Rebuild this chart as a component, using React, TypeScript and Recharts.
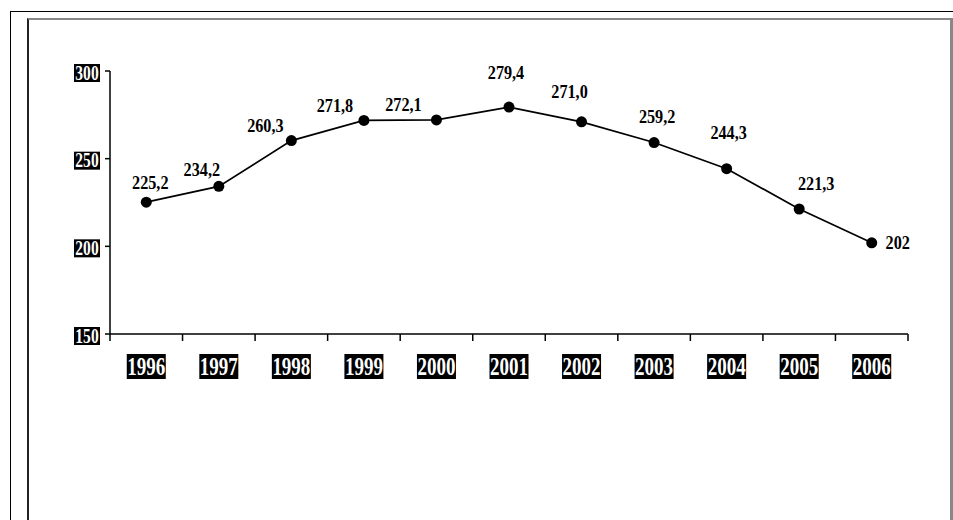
import React from 'react';
import { LineChart, Line, XAxis, YAxis } from 'recharts';

const years = ['1996', '1997', '1998', '1999', '2000', '2001', '2002', '2003', '2004', '2005', '2006'];
const values = [225.2, 234.2, 260.3, 271.8, 272.1, 279.4, 271.0, 259.2, 244.3, 221.3, 202];
const valueLabels = ['225,2', '234,2', '260,3', '271,8', '272,1', '279,4', '271,0', '259,2', '244,3', '221,3', '202'];
const yTicks = [150, 200, 250, 300];

const data = years.map((year, i) => ({ year, value: values[i], label: valueLabels[i] }));

// label offsets relative to each point (text centre), as in the original
const labelOffsets: [number, number][] = [
  [4, -19], [-17, -16], [-26, -14], [-29, -14], [-33, -15], [-3, -34],
  [-12, -30], [3, -25], [2, -35], [17, -25], [26, 0],
];

const FONT = '"Liberation Serif", "Times New Roman", serif';

const YTick = ({ x, y, payload }: any) => (
  <g>
    <rect x={x - 26} y={y - 7} width={26} height={18} fill="#000" />
    <text
      transform={`translate(${x - 13},${y + 2}) scale(0.74,1)`}
      textAnchor="middle"
      dominantBaseline="central"
      fill="#fff"
      fontFamily={FONT}
      fontWeight="bold"
      fontSize={21}
    >
      {payload.value}
    </text>
  </g>
);

const XTick = ({ x, y, payload, index }: any) => {
  const half = payload.offset || 798 / 22;
  return (
    <g>
      <line x1={x - half} y1={y} x2={x - half} y2={y + 7} stroke="#000" strokeWidth={1.5} />
      {index === years.length - 1 && (
        <line x1={x + half} y1={y} x2={x + half} y2={y + 7} stroke="#000" strokeWidth={1.5} />
      )}
      <rect x={x - 19.5} y={y + 20} width={39} height={25} fill="#000" />
      <text
        transform={`translate(${x},${y + 32.5}) scale(0.76,1)`}
        textAnchor="middle"
        dominantBaseline="central"
        fill="#fff"
        fontFamily={FONT}
        fontWeight="bold"
        fontSize={25}
      >
        {payload.value}
      </text>
    </g>
  );
};

const ValueLabel = (props: any) => {
  const { x, y, index } = props;
  const [dx, dy] = labelOffsets[index] || [0, -20];
  return (
    <text
      transform={`translate(${x + dx},${y + dy}) scale(0.9,1)`}
      textAnchor="middle"
      dominantBaseline="central"
      fill="#000"
      fontFamily={FONT}
      fontWeight="bold"
      fontSize={18}
    >
      {valueLabels[index]}
    </text>
  );
};

export default function App() {
  return (
    <div style={{ position: 'absolute', left: 0, top: 0, width: 953, height: 520, overflow: 'hidden', background: '#fff' }}>
      <div style={{ position: 'absolute', left: 10, top: 11, width: 980, height: 560, borderLeft: '1px solid #000', borderTop: '1px solid #000' }} />
      <div
        style={{
          position: 'absolute',
          left: 27,
          top: 18,
          width: 921,
          height: 560,
          borderLeft: '2px solid #222',
          borderTop: '2px solid #888',
          borderRight: '3px solid #888',
        }}
      />
      <div style={{ position: 'absolute', left: 0, top: 0 }}>
        <LineChart width={953} height={520} data={data} margin={{ top: 71, right: 45, bottom: 185, left: 109 }}>
          <XAxis
            dataKey="year"
            scale="band"
            height={1}
            tickSize={0}
            tickMargin={0}
            tickLine={false}
            axisLine={{ stroke: '#000', strokeWidth: 1.5 }}
            tick={<XTick />}
            interval={0}
          />
          <YAxis
            type="number"
            domain={[150, 300]}
            ticks={yTicks}
            width={1}
            tickSize={5}
            tickMargin={5}
            axisLine={{ stroke: '#000', strokeWidth: 1.5 }}
            tickLine={{ stroke: '#000', strokeWidth: 1.5 }}
            tick={<YTick />}
            interval={0}
          />
          <Line
            dataKey="value"
            stroke="#000"
            strokeWidth={1.7}
            dot={{ r: 5.5, fill: '#000', stroke: '#000', strokeWidth: 0 }}
            activeDot={false}
            label={<ValueLabel />}
            isAnimationActive={false}
          />
        </LineChart>
      </div>
    </div>
  );
}
